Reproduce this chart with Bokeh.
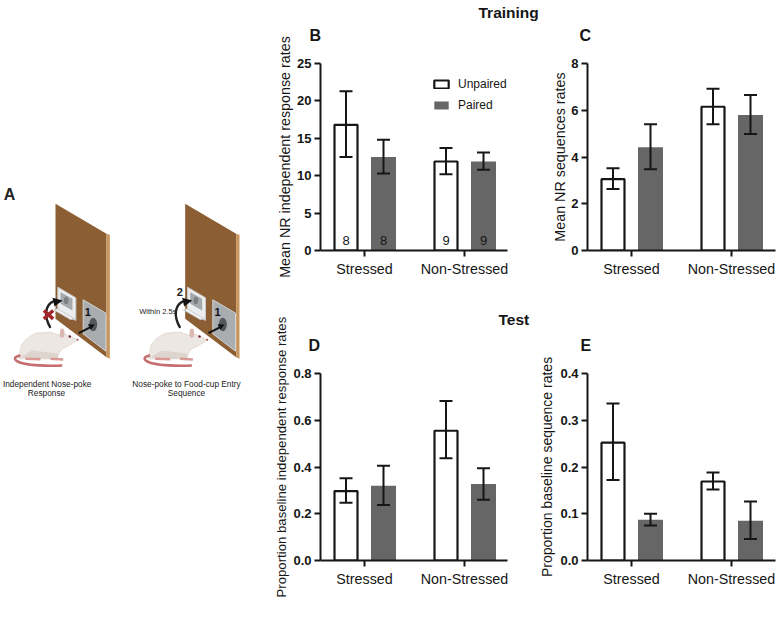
from bokeh.plotting import figure
from bokeh.layouts import row, column
from bokeh.models import (ColumnDataSource, Whisker, TeeHead, Title, Range1d, FixedTicker,
                          PrintfTickFormatter, Legend, LegendItem)
from bokeh.embed import file_html
from bokeh.resources import INLINE

groups = ["Stressed", "Non-Stressed"]
series = ["Unpaired", "Paired"]
n_labels = ["8", "8", "9", "9"]

b_mean = [16.8, 12.5, 11.9, 11.9]
b_high = [21.3, 14.8, 13.7, 13.1]
b_low = [12.5, 10.3, 10.2, 10.8]

c_mean = [3.05, 4.42, 6.15, 5.8]
c_high = [3.52, 5.4, 6.92, 6.65]
c_low = [2.63, 3.48, 5.4, 4.98]

d_mean = [0.297, 0.32, 0.555, 0.327]
d_high = [0.352, 0.405, 0.682, 0.395]
d_low = [0.247, 0.237, 0.437, 0.26]

e_mean = [0.252, 0.087, 0.169, 0.085]
e_high = [0.336, 0.1, 0.188, 0.126]
e_low = [0.172, 0.075, 0.152, 0.046]

FONT = "Liberation Sans"
INK = "#161616"
GREY = "#666666"
LABEL_PX = "14.3px"
TICK_PX = "13px"
x_pos = [-0.185, 0.19, 0.815, 1.19]


def title(p, text, size, offset, standoff):
    p.add_layout(Title(text=text, text_font=FONT, text_font_style="bold", text_font_size=size,
                       text_color=INK, align="left", offset=offset, standoff=standoff), "above")


def panel(ylabel, mean, high, low, ymax, ticks, fmt, w, h, left, right, top, bottom, standoff,
          label_px=LABEL_PX):
    frame_w = w - left - right
    x0 = -0.44
    p = figure(width=w, height=h, output_backend="svg", toolbar_location=None,
               x_range=Range1d(x0, x0 + frame_w / 100), y_range=Range1d(0, ymax),
               min_border_left=left, min_border_right=right, min_border_top=top,
               min_border_bottom=bottom, outline_line_color=None,
               background_fill_color="white", border_fill_color="white")
    p.grid.visible = False
    xa, ya = p.xaxis[0], p.yaxis[0]
    xa.ticker = FixedTicker(ticks=[0, 1])
    xa.major_label_overrides = {0: groups[0], 1: groups[1]}
    ya.ticker = FixedTicker(ticks=ticks)
    if fmt:
        ya.formatter = PrintfTickFormatter(format=fmt)
    for a in (xa, ya):
        a.axis_line_color = INK
        a.axis_line_width = 2
        a.major_tick_line_color = INK
        a.major_tick_line_width = 2
        a.major_tick_out = 6
        a.major_tick_in = 0
        a.minor_tick_line_color = None
        a.major_label_text_font = FONT
        a.major_label_text_color = INK
    xa.major_label_text_font_size = LABEL_PX
    xa.major_label_standoff = 4
    ya.major_label_text_font_size = TICK_PX
    ya.major_label_text_font_style = "bold"
    ya.major_label_standoff = 3
    if standoff is not None:
        ya.axis_label = ylabel
        ya.axis_label_text_font = FONT
        ya.axis_label_text_font_style = "normal"
        ya.axis_label_text_font_size = label_px
        ya.axis_label_text_color = INK
        ya.axis_label_standoff = standoff
    else:
        p.add_layout(Title(text=ylabel, text_font=FONT, text_font_style="normal",
                           text_font_size=label_px, text_color=INK, align="left",
                           offset=-37, standoff=4), "left")

    white = p.vbar(x=x_pos[0::2], top=mean[0::2], bottom=0, width=0.23, fill_color="white",
                   line_color=INK, line_width=2.2)
    grey = p.vbar(x=x_pos[1::2], top=mean[1::2], bottom=0, width=0.25, fill_color=GREY,
                  line_color=None)
    src = ColumnDataSource(dict(x=x_pos, high=high, low=low))
    p.add_layout(Whisker(source=src, base="x", upper="high", lower="low", level="overlay",
                         line_color=INK, line_width=2,
                         upper_head=TeeHead(size=13, line_color=INK, line_width=2),
                         lower_head=TeeHead(size=13, line_color=INK, line_width=2)))
    # keeps the panel letter clear of the axis top
    p.add_layout(Title(text=" ", text_font_size="1px", standoff=17), "above")
    p._white, p._grey = white, grey
    return p


TOP = 5
B = panel("Mean NR independent response rates", b_mean, b_high, b_low, 25,
          [0, 5, 10, 15, 20, 25], None, 280, 296 + TOP, 58, 35, 62 + TOP, 46, 1)
C = panel("Mean NR sequences rates", c_mean, c_high, c_low, 8,
          [0, 2, 4, 6, 8], None, 239, 296 + TOP, 45, 6, 63 + TOP, 45, 0)
D = panel("Proportion baseline independent response rates", d_mean, d_high, d_low, 0.8,
          [0, 0.2, 0.4, 0.6, 0.8], "%.1f", 272, 324, 58, 27, 77, 60, None, "13.2px")
E = panel("Proportion baseline sequence rates", e_mean, e_high, e_low, 0.4,
          [0, 0.1, 0.2, 0.3, 0.4], "%.1f", 247, 324, 53, 6, 76, 60, 2, "14px")

title(B, "B", "16px", -11, 0)
title(B, "Training", "15.5px", 158, 8)
title(C, "C", "16px", -8, 0)
title(D, "D", "16px", -12, 0)
title(D, "Test", "15.5px", 178, 13)
title(E, "E", "16px", -7, 0)

B.text(x=x_pos, y=[1.4] * 4, text=n_labels, text_font_size="13px", text_font={"value": FONT},
       text_align="center", text_baseline="middle", text_color=INK)
legend = Legend(items=[LegendItem(label=series[0], renderers=[B._white]),
                       LegendItem(label=series[1], renderers=[B._grey])],
                location=(112, 138), orientation="vertical", background_fill_alpha=0,
                border_line_color=None, glyph_width=18, glyph_height=10, label_width=50,
                label_height=10, spacing=7, padding=0, margin=0, label_standoff=8,
                label_text_font=FONT, label_text_font_size="12px", label_text_color=INK)
B.add_layout(legend)

# Panel A: schematic, drawn in its own pixel-like canvas
A = figure(width=262, height=620 + TOP, output_backend="svg", toolbar_location=None,
           x_range=Range1d(0, 786), y_range=Range1d(1350, -510 - 3 * TOP), min_border=0,
           outline_line_color=None, background_fill_color="white", border_fill_color="white")
A.axis.visible = False
A.grid.visible = False


def apparatus(dx, blocked):
    X = lambda pts: [q[0] + dx for q in pts]
    Y = lambda pts: [q[1] for q in pts]
    poly = lambda pts, **k: A.patch(X(pts), Y(pts), **k)
    # board
    poly([(165, 100), (318, 190), (318, 560), (165, 445)], fill_color="#8B5E34", line_color=None)
    poly([(318, 190), (328, 193), (328, 565), (318, 560)], fill_color="#C8955F", line_color=None)
    # lever plate
    poly([(248, 388), (316, 428), (316, 542), (248, 490)], fill_color="#A9ADB0",
         line_color="#D4D6D8", line_width=1)
    A.ellipse(x=[278 + dx], y=[462], width=[24], height=[40], fill_color="#55585A", line_color=None)
    # food cup
    poly([(172, 350), (226, 382), (226, 450), (172, 420)], fill_color="#ECEEEE",
         line_color="#C8CACC", line_width=1)
    poly([(180, 365), (216, 385), (216, 420), (180, 400)], fill_color="#A5A9AC", line_color=None)
    A.ellipse(x=[197 + dx], y=[390], width=[14], height=[22], fill_color="#7C8083", line_color=None)
    poly([(160, 418), (172, 415), (222, 445), (210, 447)], fill_color="#F4F4F4",
         line_color="#C8CACC", line_width=1)
    # arrows
    A.line([235 + dx, 270 + dx], [488, 470], line_color="#111111", line_width=2)
    poly([(283, 462), (262, 461), (271, 478)], fill_color="#111111", line_color=None)
    A.bezier(x0=[150 + dx], y0=[472], x1=[160 + dx], y1=[392],
             cx0=[128 + dx], cy0=[435], cx1=[135 + dx], cy1=[402],
             line_color="#222222", line_width=2.4)
    poly([(186, 390), (156, 382), (162, 408)], fill_color="#111111", line_color=None)
    # rat
    poly([(55, 565), (62, 525), (78, 505), (105, 488), (150, 485), (180, 495), (195, 491),
          (215, 500), (232, 508), (205, 525), (185, 535), (175, 548), (170, 565), (100, 565)],
         fill_color="#ECE7E2", line_color="#D8D1CB", line_width=0.7)
    poly([(60, 560), (95, 540), (140, 545), (172, 550), (170, 565), (100, 565)],
         fill_color="#DCD4CD", line_color=None)
    A.ellipse(x=[185 + dx], y=[488], width=[14], height=[28], fill_color="#DDB8B0", line_color=None)
    A.scatter(x=[208 + dx], y=[498], size=2.5, fill_color="#7A2530", line_color=None)
    A.scatter(x=[231 + dx], y=[508], size=2, fill_color="#B54A50", line_color=None)
    A.bezier(x0=[60 + dx], y0=[555], x1=[185 + dx], y1=[585],
             cx0=[25 + dx], cy0=[560], cx1=[35 + dx], cy1=[590],
             line_color="#C66E6E", line_width=2.5)
    A.line([75 + dx, 120 + dx], [565, 566], line_color="#D99A96", line_width=2.5)
    A.line([150 + dx, 188 + dx], [565, 567], line_color="#D99A96", line_width=2.5)
    A.text(x=[262 + dx], y=[425], text=["1"], text_font={"value": FONT}, text_font_style="bold",
           text_font_size="11px", text_align="center", text_baseline="middle", text_color="#111111")
    if blocked:
        A.line([130, 158], [420, 445], line_color="#A0282D", line_width=3.5)
        A.line([158, 130], [420, 445], line_color="#A0282D", line_width=3.5)


apparatus(0, True)
apparatus(389, False)


def a_text(x, y, s, size, bold=False):
    A.text(x=[x], y=[y], text=[s], text_font={"value": FONT},
           text_font_style="bold" if bold else "normal", text_font_size=size,
           text_align="center", text_baseline="middle", text_color="#222222")


a_text(27, 72, "A", "16px", True)
a_text(538, 364, "2", "11px", True)
a_text(472, 423, "Within 2.5s", "7.5px")
a_text(140, 641, "Independent Nose-poke", "8.3px")
a_text(138, 667, "Response", "8.3px")
a_text(558, 641, "Nose-poke to Food-cup Entry", "8.3px")
a_text(558, 667, "Sequence", "8.3px")

right = column(row(B, C, spacing=0), row(D, E, spacing=0), spacing=0)
p = row(A, right, spacing=0, margin=(-TOP, 0, 0, 0))

open("out.html", "w").write(file_html(p, INLINE))
